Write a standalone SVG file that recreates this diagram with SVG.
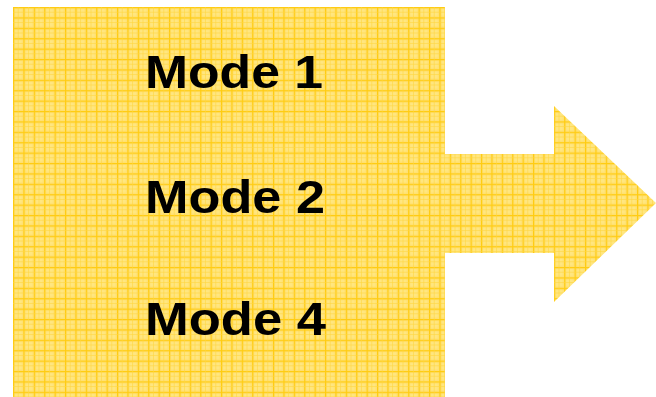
<svg xmlns="http://www.w3.org/2000/svg" width="656" height="397" viewBox="0 0 656 397">
<style>
.lbl{font-family:"Liberation Sans",Arial,sans-serif;font-weight:bold;font-size:47px;fill:#000}
.shape{fill:url(#grid)}
</style>
<defs>
<pattern id="grid" patternUnits="userSpaceOnUse" x="13" y="7" width="10.4" height="10.4">
<rect width="10.4" height="10.4" fill="#FFE070"/>
<rect x="2" y="2" width="7" height="7" fill="#FFE680"/>
<rect x="0" y="0" width="10.4" height="1.2" fill="#FFCC11"/>
<rect x="0" y="0" width="1.2" height="10.4" fill="#FFCC11"/>
<rect x="5" y="0" width="0.6" height="10.4" fill="#FFD640"/>
<rect x="0" y="5" width="10.4" height="0.6" fill="#FFD640"/>
</pattern>
</defs>
<g id="arrow">
<path class="shape" d="M445 154 H554 V106 L656 203 L554 302 V253 H445 Z"/>
</g>
<g id="box">
<rect class="shape" x="13" y="7" width="432" height="390"/>
</g>
<g id="mode1"><text class="lbl" x="145" y="88" textLength="178" lengthAdjust="spacingAndGlyphs">Mode 1</text></g>
<g id="mode2"><text class="lbl" x="145" y="213" textLength="180" lengthAdjust="spacingAndGlyphs">Mode 2</text></g>
<g id="mode4"><text class="lbl" x="145" y="335" textLength="181" lengthAdjust="spacingAndGlyphs">Mode 4</text></g>
<g id="connectors"></g>
</svg>
